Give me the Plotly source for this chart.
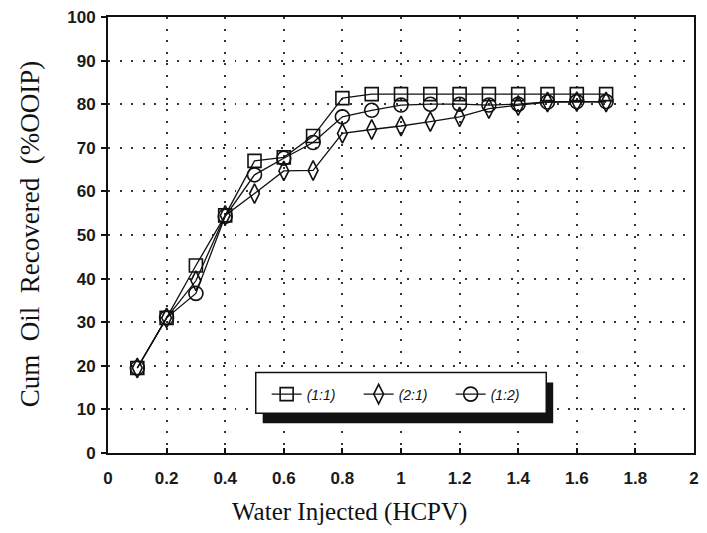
import plotly.graph_objects as go

# Data
x_hcpv = [0.1, 0.2, 0.3, 0.4, 0.5, 0.6, 0.7, 0.8, 0.9, 1.0, 1.1, 1.2, 1.3, 1.4, 1.5, 1.6, 1.7]
rec_1_1 = [19.5, 31, 43, 54.5, 67, 67.8, 72.7, 81.4, 82.3, 82.3, 82.3, 82.3, 82.3, 82.3, 82.3, 82.3, 82.3]
rec_2_1 = [19.5, 31, 39.5, 54.5, 59.5, 64.7, 64.8, 73.3, 74.2, 75.0, 76.0, 77.1, 79.0, 79.7, 80.5, 80.6, 80.5]
rec_1_2 = [19.5, 31, 36.6, 54.3, 63.8, 67.6, 71.2, 77.1, 78.6, 79.8, 80.0, 80.0, 79.8, 80.0, 80.5, 80.6, 80.6]

series_names = ["<i>(1:1)</i>", "<i>(2:1)</i>", "<i>(1:2)</i>"]
series_vals = [rec_1_1, rec_2_1, rec_1_2]
symbols = ["square-open", "diamond-tall-open", "circle-open"]
sizes = [13, 14, 14]

x_ticks = [0, 0.2, 0.4, 0.6, 0.8, 1, 1.2, 1.4, 1.6, 1.8, 2]
x_ticklabels = ["0", "0.2", "0.4", "0.6", "0.8", "1", "1.2", "1.4", "1.6", "1.8", "2"]
y_ticks = list(range(0, 101, 10))

x_title = "Water Injected (HCPV)"
y_title = "Cum\u00a0\u00a0Oil\u00a0\u00a0Recovered\u00a0\u00a0(%OOIP)"

L, R, T, B = 108, 8, 14, 80
W, H = 707, 533
pw, ph = W - L - R, H - T - B


def px_x(p):
    return (p - L) / pw


def px_y(p):
    return (H - B - p) / ph


fig = go.Figure()
for name, vals, sym, sz in zip(series_names, series_vals, symbols, sizes):
    fig.add_trace(go.Scatter(
        x=x_hcpv, y=vals, name=name, mode="lines+markers",
        line=dict(color="#111", width=1.3),
        marker=dict(symbol=sym, size=sz, color="#111", line=dict(width=1.6, color="#111")),
    ))

tick_font = dict(family="Liberation Sans, Arial", size=17, color="#1a1a1a", weight="bold")
serif = "Liberation Serif, Times New Roman"

fig.update_layout(
    width=W, height=H,
    margin=dict(l=L, r=R, t=T, b=B),
    paper_bgcolor="white", plot_bgcolor="white",
    showlegend=True,
    legend=dict(
        orientation="h", x=px_x(268), y=px_y(378), xanchor="left", yanchor="top",
        bgcolor="rgba(0,0,0,0)", borderwidth=0,
        font=dict(family="Liberation Sans, Arial", size=14, color="#111"),
        entrywidth=47, entrywidthmode="pixels",
        itemsizing="trace",
    ),
    xaxis=dict(
        range=[0, 2], tickvals=x_ticks, ticktext=x_ticklabels,
        showgrid=True, gridcolor="#333", gridwidth=2, griddash="2px,9.5px",
        showline=True, linecolor="#111", linewidth=2, mirror=True,
        ticks="inside", ticklen=5, tickcolor="#111", tickwidth=1.5,
        ticklabelstandoff=9,
        zeroline=False, tickfont=tick_font,
    ),
    yaxis=dict(
        range=[0, 100], tickvals=y_ticks,
        showgrid=True, gridcolor="#333", gridwidth=2, griddash="2px,9.5px",
        showline=True, linecolor="#111", linewidth=2, mirror=True,
        ticks="outside", ticklen=5, tickcolor="#111", tickwidth=1.5,
        ticklabelstandoff=2,
        zeroline=False, tickfont=tick_font,
    ),
    annotations=[
        dict(text=x_title, xref="paper", yref="paper", x=px_x(352), y=px_y(512),
             xanchor="center", yanchor="middle", showarrow=False,
             font=dict(family=serif, size=25, color="#111")),
        dict(text=y_title, xref="paper", yref="paper", x=px_x(29), y=px_y(233),
             xanchor="center", yanchor="middle", showarrow=False, textangle=-90,
             font=dict(family=serif, size=27, color="#111")),
    ],
    shapes=[
        dict(type="rect", xref="paper", yref="paper",
             x0=px_x(264), x1=px_x(557), y0=px_y(423), y1=px_y(382),
             fillcolor="#111", line=dict(width=0), layer="above"),
        dict(type="rect", xref="paper", yref="paper",
             x0=px_x(257), x1=px_x(550), y0=px_y(413), y1=px_y(372),
             fillcolor="white", line=dict(width=1.5, color="#111"), layer="above"),
    ],
)

fig.write_html("out.html")
